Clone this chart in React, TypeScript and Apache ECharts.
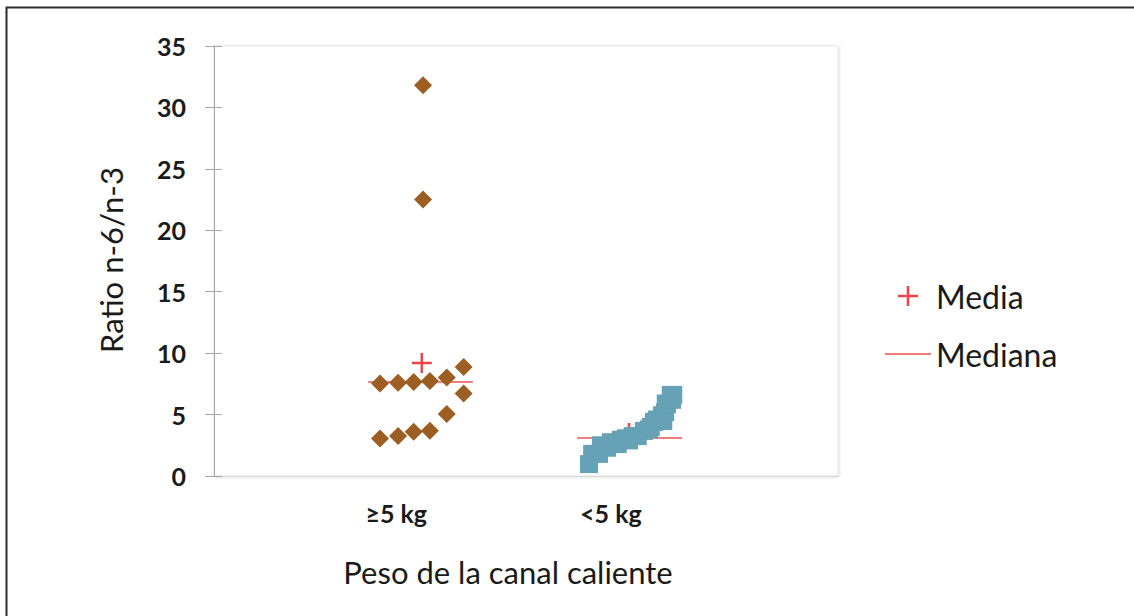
import React, { useEffect, useRef } from "react";
import * as echarts from "echarts";

// Category labels and their positions on the (hidden-scale) horizontal axis
const categories = ["≥5 kg", "<5 kg"];
const categoryPos = [29.2, 63.6];

// Group "≥5 kg": horizontal jitter position and n-6/n-3 ratio
const heavyX = [26.6, 29.5, 32.0, 34.6, 37.3, 40.0, 40.0, 26.6, 29.5, 32.0, 34.6, 37.3, 33.5, 33.5];
const heavyRatio = [7.53, 7.58, 7.66, 7.74, 8.02, 8.88, 6.72, 3.06, 3.25, 3.6, 3.68, 5.04, 22.5, 31.8];

// Group "<5 kg": horizontal jitter position and n-6/n-3 ratio
const lightX = [60.1, 60.6, 61.7, 62.0, 63.0, 63.6, 64.7, 65.2, 66.0, 66.5, 67.1, 67.9, 68.9, 69.7, 70.0, 70.5, 71.0, 71.8, 72.0, 72.3, 72.6, 72.4, 73.2, 73.4, 73.6];
const lightRatio = [0.97, 1.8, 1.8, 2.5, 2.3, 2.75, 2.6, 2.95, 3.07, 2.9, 3.25, 3.25, 3.67, 3.8, 4.0, 4.4, 4.6, 4.95, 4.47, 5.2, 5.85, 5.9, 6.6, 6.2, 6.6];

// Summary statistics: [x position, value]
const meanPoints = [
  [33.3, 9.2],
  [66.5, 3.5],
];
const medianHeavy = [
  [24.7, 7.66],
  [41.5, 7.66],
];
const medianLight = [
  [58.2, 3.09],
  [75.0, 3.09],
];

const yTicks = { min: 0, max: 35, interval: 5 };

const FONT = "Lato";
const TEXT = "#1a1a1a";
const plusPath =
  "path://M8.75,0H11.25V8.75H20V11.25H11.25V20H8.75V11.25H0V8.75H8.75Z";

export default function App() {
  const ref = useRef<HTMLDivElement>(null);

  useEffect(() => {
    document.body.style.margin = "0";
    if (!ref.current) return;
    const chart = echarts.init(ref.current, null, { renderer: "svg" });

    const heavyData = heavyX.map((x, i) => [x, heavyRatio[i]]);
    const lightData = lightX.map((x, i) => [x, lightRatio[i]]);

    chart.setOption({
      animation: false,
      backgroundColor: "#ffffff",
      textStyle: { fontFamily: FONT },
      grid: {
        left: 214,
        top: 46,
        right: 296,
        bottom: 140,
        show: true,
        borderColor: "#e3e3e3",
        borderWidth: 1,
        backgroundColor: "#ffffff",
        shadowColor: "rgba(0,0,0,0.12)",
        shadowBlur: 3,
        shadowOffsetX: 1,
        shadowOffsetY: 1,
      },
      xAxis: {
        type: "value",
        min: 0,
        max: 100,
        splitLine: { show: false },
        axisTick: { show: false },
        axisLine: { show: true, lineStyle: { color: "#d9d9d9", width: 1 } },
        axisLabel: {
          customValues: categoryPos,
          margin: 24,
          fontSize: 25,
          fontWeight: "bold",
          fontFamily: FONT,
          color: TEXT,
          formatter: (v: number) => {
            const i = categoryPos.findIndex((p) => Math.abs(p - v) < 0.01);
            return i >= 0 ? categories[i] : "";
          },
        },
      },
      yAxis: [
        {
          type: "value",
          min: yTicks.min,
          max: yTicks.max,
          interval: yTicks.interval,
          splitLine: { show: false },
          axisLine: { show: true, lineStyle: { color: "#a6a6a6", width: 1 } },
          axisTick: { show: true, length: 9, lineStyle: { color: "#a6a6a6" } },
          axisLabel: {
            margin: 28,
            fontSize: 25,
            fontWeight: "bold",
            fontFamily: FONT,
            color: TEXT,
          },
        },
        {
          type: "value",
          position: "left",
          min: yTicks.min,
          max: yTicks.max,
          interval: yTicks.interval,
          splitLine: { show: false },
          axisLine: { show: false },
          axisTick: { show: true, inside: true, length: 8, lineStyle: { color: "#a6a6a6" } },
          axisLabel: { show: false },
        },
      ],
      legend: {
        orient: "vertical",
        left: 880,
        top: 273,
        itemWidth: 46,
        itemHeight: 20,
        itemGap: 22,
        textStyle: { fontSize: 32, lineHeight: 36, color: TEXT, fontFamily: FONT },
        data: [
          { name: "Media", icon: plusPath },
          { name: "Mediana", icon: "path://M0,0H46V2H0Z" },
        ],
      },
      series: [
        {
          name: "Mediana",
          type: "line",
          data: medianHeavy,
          color: "#f08080",
          symbol: "none",
          lineStyle: { color: "#f08080", width: 2 },
          itemStyle: { color: "#f08080" },
          z: 1,
        },
        {
          name: "Mediana",
          type: "line",
          data: medianLight,
          color: "#f08080",
          symbol: "none",
          lineStyle: { color: "#f08080", width: 2 },
          itemStyle: { color: "#f08080" },
          z: 1,
        },
        {
          name: "Media",
          type: "scatter",
          data: meanPoints,
          symbol: plusPath,
          symbolSize: 20,
          itemStyle: { color: "#f0434a", opacity: 1 },
          z: 2,
        },
        {
          name: "≥5 kg",
          type: "scatter",
          data: heavyData,
          symbol: "diamond",
          symbolSize: 18,
          itemStyle: { color: "#9c5e22", opacity: 1 },
          z: 3,
        },
        {
          name: "<5 kg",
          type: "scatter",
          data: lightData,
          symbol: "rect",
          symbolSize: 18,
          itemStyle: { color: "#66a1b5", opacity: 1 },
          z: 3,
        },
      ],
      graphic: [
        {
          type: "rect",
          shape: { x: 6.5, y: 7.5, width: 1200, height: 700 },
          style: { fill: "none", stroke: "#2b2b2b", lineWidth: 2 },
          silent: true,
        },
        {
          type: "text",
          x: 111,
          y: 260,
          rotation: Math.PI / 2,
          style: {
            text: "Ratio n-6/n-3",
            font: `31px ${FONT}`,
            fill: TEXT,
            textAlign: "center",
            textVerticalAlign: "middle",
          },
        },
        {
          type: "text",
          x: 508,
          y: 572,
          style: {
            text: "Peso de la canal caliente",
            font: `31px ${FONT}`,
            fill: TEXT,
            textAlign: "center",
            textVerticalAlign: "middle",
          },
        },
      ],
    });

    return () => chart.dispose();
  }, []);

  return <div ref={ref} style={{ width: 1134, height: 616 }} />;
}
